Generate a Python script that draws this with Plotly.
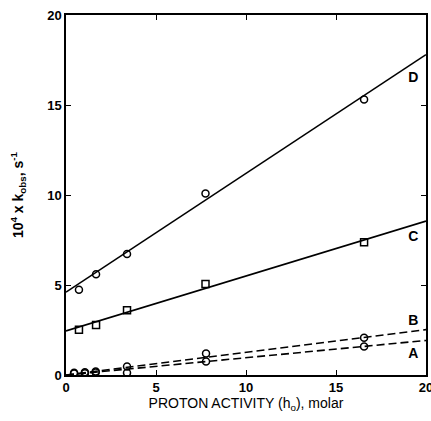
import plotly.graph_objects as go

# Data
h0_CD = [0.72, 1.67, 3.39, 7.75, 16.56]
D_obs = [4.74, 5.6, 6.72, 10.08, 15.3]
C_obs = [2.51, 2.78, 3.6, 5.06, 7.38]
h0_AB = [0.45, 1.05, 1.65, 3.39, 7.78, 16.56]
B_obs = [0.12, 0.15, 0.2, 0.47, 1.2, 2.07]
A_obs = [0.08, 0.1, 0.14, 0.12, 0.75, 1.58]

fit_x = [0, 20]
D_fit = [4.6, 17.8]
C_fit = [2.45, 8.55]
B_fit = [0.0, 2.52]
A_fit = [0.0, 1.92]

labels = ["D", "C", "B", "A"]
label_x = [19.3, 19.3, 19.3, 19.3]
label_y = [16.45, 7.65, 3.0, 1.15]

x_ticks = [0, 5, 10, 15, 20]
y_ticks = [0, 5, 10, 15, 20]

FONT = "Liberation Sans, Arial, sans-serif"
fig = go.Figure()

line_style = dict(color="black", width=1.6)
dash_style = dict(color="black", width=1.6, dash="8px,4px")

fig.add_trace(go.Scatter(x=fit_x, y=D_fit, mode="lines", line=line_style))
fig.add_trace(go.Scatter(x=fit_x, y=C_fit, mode="lines", line=line_style))
fig.add_trace(go.Scatter(x=fit_x, y=B_fit, mode="lines", line=dash_style))
fig.add_trace(go.Scatter(x=fit_x, y=A_fit, mode="lines", line=dash_style))

circ = dict(symbol="circle-open", size=7, color="black", line=dict(width=1.5, color="black"))
sq = dict(symbol="square-open", size=7, color="black", line=dict(width=1.5, color="black"))
fig.add_trace(go.Scatter(x=h0_CD, y=D_obs, mode="markers", marker=circ))
fig.add_trace(go.Scatter(x=h0_CD, y=C_obs, mode="markers", marker=sq))
fig.add_trace(go.Scatter(x=h0_AB, y=B_obs, mode="markers", marker=circ))
fig.add_trace(go.Scatter(x=h0_AB, y=A_obs, mode="markers", marker=circ))

fig.add_trace(go.Scatter(x=label_x, y=label_y, mode="text", text=labels,
                         textfont=dict(family=FONT, size=14, color="black", weight="bold")))

axis_common = dict(
    showgrid=False, zeroline=False, showline=True, linecolor="black", linewidth=1.5,
    mirror="ticks", ticks="inside", ticklen=5, tickwidth=1.3, tickcolor="black",
    tickfont=dict(family=FONT, size=13, color="black", weight="bold"),
    ticklabeloverflow="allow", automargin=False,
)
fig.update_xaxes(range=[0, 20], tickvals=x_ticks, ticktext=[str(v) for v in x_ticks],
                 title=dict(text="PROTON ACTIVITY (h<sub>o</sub>), molar", standoff=4,
                            font=dict(family=FONT, size=14, color="black")),
                 **axis_common)
fig.update_yaxes(range=[0, 20], tickvals=y_ticks, ticktext=[str(v) for v in y_ticks],
                 title=dict(text="10<sup>4</sup> x k<sub>obs</sub>, s<sup>-1</sup>", standoff=20,
                            font=dict(family=FONT, size=14, color="black", weight="bold")),
                 **axis_common)

fig.update_layout(
    width=431, height=421, showlegend=False,
    margin=dict(l=66, r=5, t=15, b=46, autoexpand=False),
    paper_bgcolor="white", plot_bgcolor="white",
)
fig.write_html("out.html")
